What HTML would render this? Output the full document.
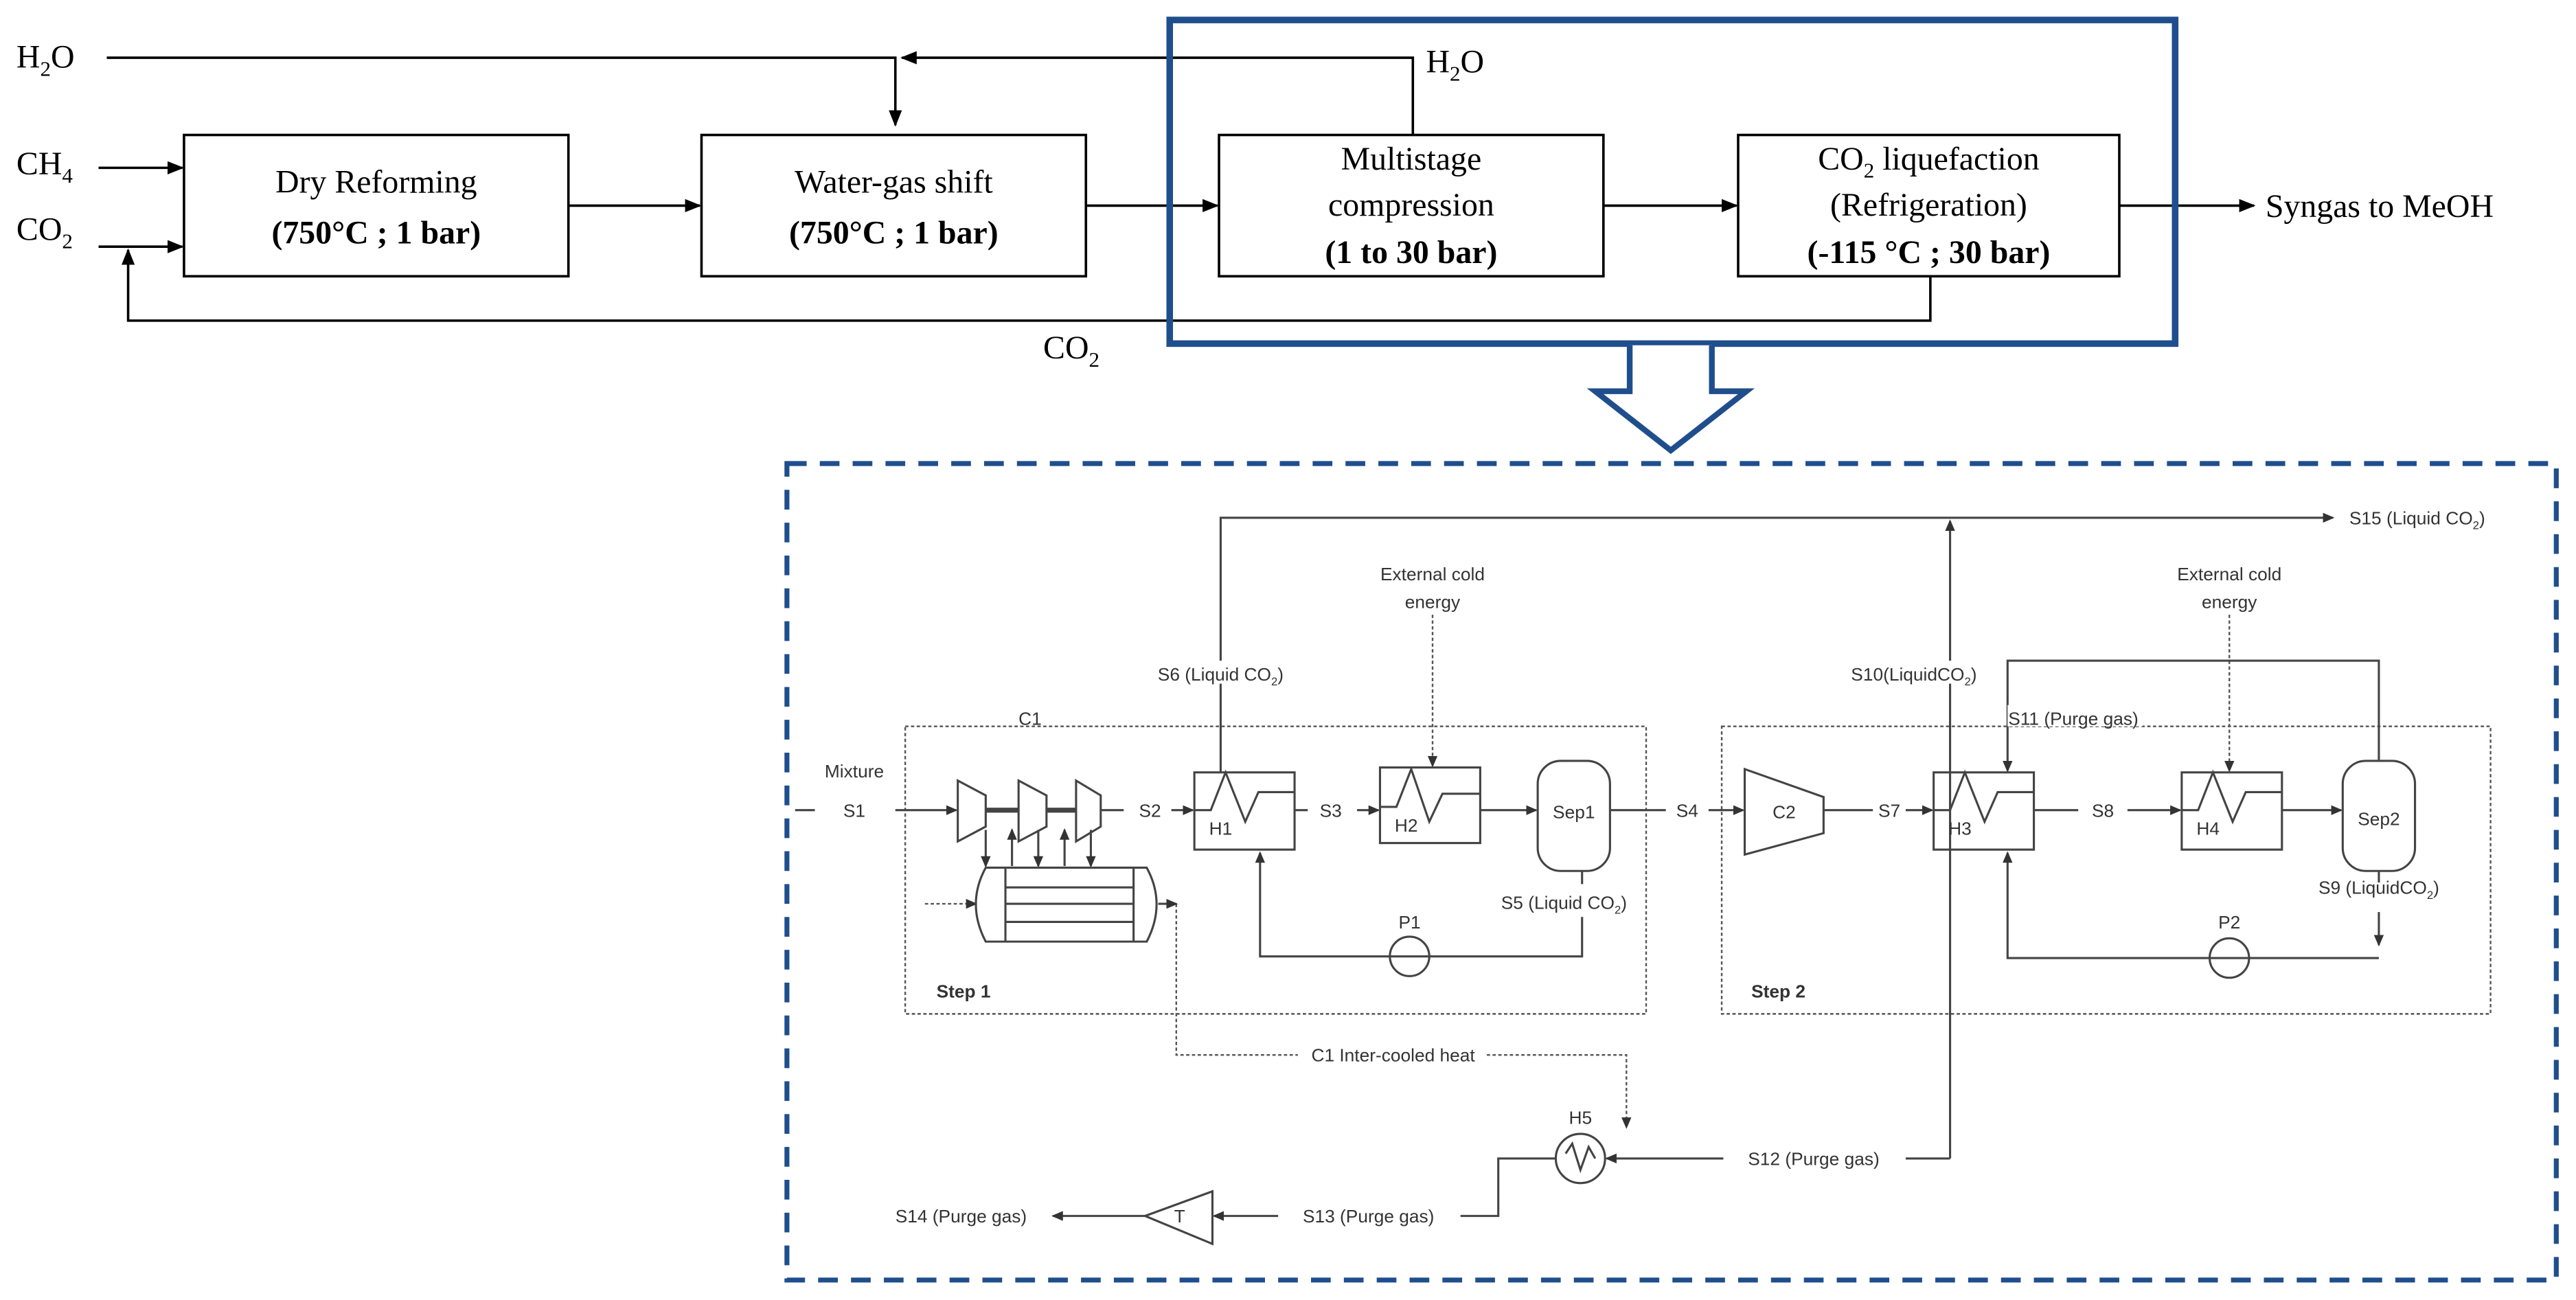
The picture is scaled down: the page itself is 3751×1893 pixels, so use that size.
<!DOCTYPE html>
<html><head><meta charset="utf-8"><style>
html,body{margin:0;padding:0;background:#fff;}
svg{display:block;}
.s{font-family:"Liberation Serif",serif;fill:#000;}
.a{font-family:"Liberation Sans",sans-serif;fill:#333;font-size:11px;}
</style></head><body>
<svg width="3751" height="1893" viewBox="0 0 1568 791" xmlns="http://www.w3.org/2000/svg">
<defs>
<marker id="ar" markerWidth="10" markerHeight="8" refX="9" refY="4" orient="auto" markerUnits="userSpaceOnUse"><path d="M0,0 L10,4 L0,8 z" fill="#000"/></marker>
<marker id="ag" markerWidth="7" markerHeight="6" refX="6" refY="3" orient="auto" markerUnits="userSpaceOnUse"><path d="M0,0 L7,3 L0,6 z" fill="#333"/></marker>
</defs>
<rect width="1568" height="791" fill="#fff"/>
<g stroke="#000" stroke-width="1.5" fill="none">
<rect x="112" y="82" width="234" height="86"/>
<rect x="427" y="82" width="234" height="86"/>
<rect x="742" y="82" width="234" height="86"/>
<rect x="1058" y="82" width="232" height="86"/>
<polyline points="65,35 545,35 545,76" marker-end="url(#ar)"/>
<polyline points="860,82 860,35 549,35" marker-end="url(#ar)"/>
<line x1="60" y1="102" x2="111" y2="102" marker-end="url(#ar)"/>
<line x1="60" y1="150" x2="111" y2="150" marker-end="url(#ar)"/>
<polyline points="1175,168 1175,195 78,195 78,152" marker-end="url(#ar)"/>
<line x1="346" y1="125" x2="426" y2="125" marker-end="url(#ar)"/>
<line x1="661" y1="125" x2="741" y2="125" marker-end="url(#ar)"/>
<line x1="976" y1="125" x2="1057" y2="125" marker-end="url(#ar)"/>
<line x1="1290" y1="125" x2="1372" y2="125" marker-end="url(#ar)"/>
</g>
<g class="s" font-size="20">
<text x="10" y="41">H<tspan font-size="13" dy="5">2</tspan><tspan dy="-5">O</tspan></text>
<text x="10" y="106">CH<tspan font-size="13" dy="5">4</tspan></text>
<text x="10" y="146">CO<tspan font-size="13" dy="5">2</tspan></text>
<text x="868" y="44">H<tspan font-size="13" dy="5">2</tspan><tspan dy="-5">O</tspan></text>
<text x="635" y="218">CO<tspan font-size="13" dy="5">2</tspan></text>
<text x="1379" y="132">Syngas to MeOH</text>
<text x="229" y="117" text-anchor="middle">Dry Reforming</text>
<text x="229" y="148" text-anchor="middle" font-weight="bold">(750°C ; 1 bar)</text>
<text x="544" y="117" text-anchor="middle">Water-gas shift</text>
<text x="544" y="148" text-anchor="middle" font-weight="bold">(750°C ; 1 bar)</text>
<text x="859" y="103" text-anchor="middle">Multistage</text>
<text x="859" y="131" text-anchor="middle">compression</text>
<text x="859" y="160" text-anchor="middle" font-weight="bold">(1 to 30 bar)</text>
<text x="1174" y="103" text-anchor="middle">CO<tspan font-size="13" dy="5">2</tspan><tspan dy="-5"> liquefaction</tspan></text>
<text x="1174" y="131" text-anchor="middle">(Refrigeration)</text>
<text x="1174" y="160" text-anchor="middle" font-weight="bold">(-115 °C ; 30 bar)</text>
</g>
<rect x="712" y="12" width="612" height="197" fill="none" stroke="#1f4e8c" stroke-width="4"/>
<path d="M992,210 L992,238 L971,238 L1017,274 L1063,238 L1042,238 L1042,210" fill="#fff" stroke="#1f4e8c" stroke-width="3.5"/>
<rect x="479" y="282" width="1077" height="497" fill="none" stroke="#1f4e8c" stroke-width="3" stroke-dasharray="12,8"/>
<g stroke="#555" stroke-width="1" fill="none" stroke-dasharray="2,1.5">
<rect x="551" y="442" width="451" height="175"/>
<rect x="1048" y="442" width="468" height="175"/>
<line x1="872" y1="374" x2="872" y2="466" marker-end="url(#ag)"/>
<line x1="1357" y1="374" x2="1357" y2="469" marker-end="url(#ag)"/>
<line x1="563" y1="550" x2="594" y2="550" marker-end="url(#ag)"/>
<polyline points="716,550 716,642 790,642"/>
<polyline points="905,642 990,642 990,686" marker-end="url(#ag)"/>
</g>
<g stroke="#444" stroke-width="1.3" fill="none">
<polyline points="743,470 743,315 1420,315" marker-end="url(#ag)"/>
<line x1="1187" y1="705" x2="1187" y2="317" marker-end="url(#ag)"/>
<line x1="484" y1="493" x2="496" y2="493"/>
<line x1="545" y1="493" x2="582" y2="493" marker-end="url(#ag)"/>
<path d="M583,475 L600,484 L600,503 L583,512 z"/>
<path d="M620,475 L637,484 L637,503 L620,512 z"/>
<path d="M655,475 L670,484 L670,503 L655,512 z"/>
<line x1="600" y1="493" x2="620" y2="493" stroke-width="3"/>
<line x1="637" y1="493" x2="655" y2="493" stroke-width="3"/>
<line x1="670" y1="493" x2="684" y2="493"/>
<line x1="600" y1="505" x2="600" y2="527" marker-end="url(#ag)"/>
<line x1="616" y1="527" x2="616" y2="505" marker-end="url(#ag)"/>
<line x1="632" y1="505" x2="632" y2="527" marker-end="url(#ag)"/>
<line x1="648" y1="527" x2="648" y2="505" marker-end="url(#ag)"/>
<line x1="664" y1="505" x2="664" y2="527" marker-end="url(#ag)"/>
<path d="M600,528 L698,528 Q710,550 698,573 L600,573 Q588,550 600,528 z"/>
<line x1="612" y1="528" x2="612" y2="573"/><line x1="690" y1="528" x2="690" y2="573"/>
<line x1="612" y1="540" x2="690" y2="540"/><line x1="612" y1="550" x2="690" y2="550"/><line x1="612" y1="561" x2="690" y2="561"/>
<line x1="705" y1="550" x2="716" y2="550" marker-end="url(#ag)"/>
<line x1="713" y1="493" x2="726" y2="493" marker-end="url(#ag)"/>
<rect x="727" y="470" width="61" height="47"/>
<polyline points="727,493 737,493 746,470 758,500 766,482 788,482"/>
<line x1="788" y1="493" x2="796" y2="493"/>
<line x1="826" y1="493" x2="839" y2="493" marker-end="url(#ag)"/>
<rect x="840" y="467" width="61" height="46"/>
<polyline points="840,491 850,491 859,468 870,500 878,483 901,483"/>
<line x1="901" y1="493" x2="935" y2="493" marker-end="url(#ag)"/>
<rect x="936" y="463" width="44" height="67" rx="14"/>
<line x1="980" y1="493" x2="1014" y2="493"/>
<line x1="1040" y1="493" x2="1061" y2="493" marker-end="url(#ag)"/>
<polyline points="963,530 963,538"/>
<polyline points="963,558 963,582 767,582 767,519" marker-end="url(#ag)"/>
<circle cx="858" cy="582" r="12"/>
<path d="M1062,468 L1110,485 L1110,507 L1062,520 z"/>
<line x1="1110" y1="493" x2="1140" y2="493"/>
<line x1="1160" y1="493" x2="1176" y2="493" marker-end="url(#ag)"/>
<rect x="1177" y="470" width="61" height="47"/>
<polyline points="1177,493 1187,493 1196,470 1208,500 1216,482 1238,482"/>
<line x1="1238" y1="493" x2="1265" y2="493"/>
<line x1="1295" y1="493" x2="1327" y2="493" marker-end="url(#ag)"/>
<rect x="1328" y="470" width="61" height="47"/>
<polyline points="1328,493 1338,493 1347,470 1359,500 1367,482 1389,482"/>
<line x1="1389" y1="493" x2="1425" y2="493" marker-end="url(#ag)"/>
<rect x="1426" y="463" width="44" height="67" rx="14"/>
<polyline points="1448,463 1448,402 1222,402 1222,469" marker-end="url(#ag)"/>
<line x1="1448" y1="530" x2="1448" y2="537"/>
<polyline points="1448,555 1448,575" marker-end="url(#ag)"/>
<polyline points="1448,583 1222,583 1222,519" marker-end="url(#ag)"/>
<circle cx="1357" cy="583" r="12"/>
<circle cx="962" cy="705" r="15"/>
<polyline points="953,702 957,696 962,712 967,698 971,705"/>
<line x1="1049" y1="705" x2="978" y2="705" marker-end="url(#ag)"/>
<line x1="1187" y1="705" x2="1160" y2="705"/>
<polyline points="947,705 912,705 912,740 889,740"/>
<line x1="778" y1="740" x2="739" y2="740" marker-end="url(#ag)"/>
<path d="M697,740 L738,725 L738,757 z"/>
<line x1="697" y1="740" x2="641" y2="740" marker-end="url(#ag)"/>
</g>
<g fill="#fff">
<rect x="704" y="402" width="80" height="14"/>
<rect x="1126" y="402" width="80" height="14"/>
<rect x="1222" y="429" width="82" height="13"/>
</g>
<g class="a">
<text x="1430" y="319">S15 (Liquid CO<tspan font-size="7" dy="3">2</tspan><tspan dy="-3">)</tspan></text>
<text x="872" y="353" text-anchor="middle">External cold</text>
<text x="872" y="370" text-anchor="middle">energy</text>
<text x="1357" y="353" text-anchor="middle">External cold</text>
<text x="1357" y="370" text-anchor="middle">energy</text>
<text x="743" y="414" text-anchor="middle">S6 (Liquid CO<tspan font-size="7" dy="3">2</tspan><tspan dy="-3">)</tspan></text>
<text x="1165" y="414" text-anchor="middle">S10(LiquidCO<tspan font-size="7" dy="3">2</tspan><tspan dy="-3">)</tspan></text>
<text x="1262" y="441" text-anchor="middle">S11 (Purge gas)</text>
<text x="502" y="473">Mixture</text>
<text x="627" y="441" text-anchor="middle">C1</text>
<text x="520" y="497" text-anchor="middle">S1</text>
<text x="700" y="497" text-anchor="middle">S2</text>
<text x="810" y="497" text-anchor="middle">S3</text>
<text x="1027" y="497" text-anchor="middle">S4</text>
<text x="1150" y="497" text-anchor="middle">S7</text>
<text x="1280" y="497" text-anchor="middle">S8</text>
<text x="743" y="508" text-anchor="middle">H1</text>
<text x="856" y="506" text-anchor="middle">H2</text>
<text x="958" y="498" text-anchor="middle">Sep1</text>
<text x="1086" y="498" text-anchor="middle">C2</text>
<text x="1193" y="508" text-anchor="middle">H3</text>
<text x="1344" y="508" text-anchor="middle">H4</text>
<text x="1448" y="502" text-anchor="middle">Sep2</text>
<text x="952" y="553" text-anchor="middle">S5 (Liquid CO<tspan font-size="7" dy="3">2</tspan><tspan dy="-3">)</tspan></text>
<text x="1448" y="544" text-anchor="middle">S9 (LiquidCO<tspan font-size="7" dy="3">2</tspan><tspan dy="-3">)</tspan></text>
<text x="858" y="565" text-anchor="middle">P1</text>
<text x="1357" y="565" text-anchor="middle">P2</text>
<text x="570" y="607" font-weight="bold">Step 1</text>
<text x="1066" y="607" font-weight="bold">Step 2</text>
<text x="848" y="646" text-anchor="middle">C1 Inter-cooled heat</text>
<text x="962" y="684" text-anchor="middle">H5</text>
<text x="1104" y="709" text-anchor="middle">S12 (Purge gas)</text>
<text x="833" y="744" text-anchor="middle">S13 (Purge gas)</text>
<text x="718" y="744" text-anchor="middle">T</text>
<text x="585" y="744" text-anchor="middle">S14 (Purge gas)</text>
</g>
</svg>
</body></html>
